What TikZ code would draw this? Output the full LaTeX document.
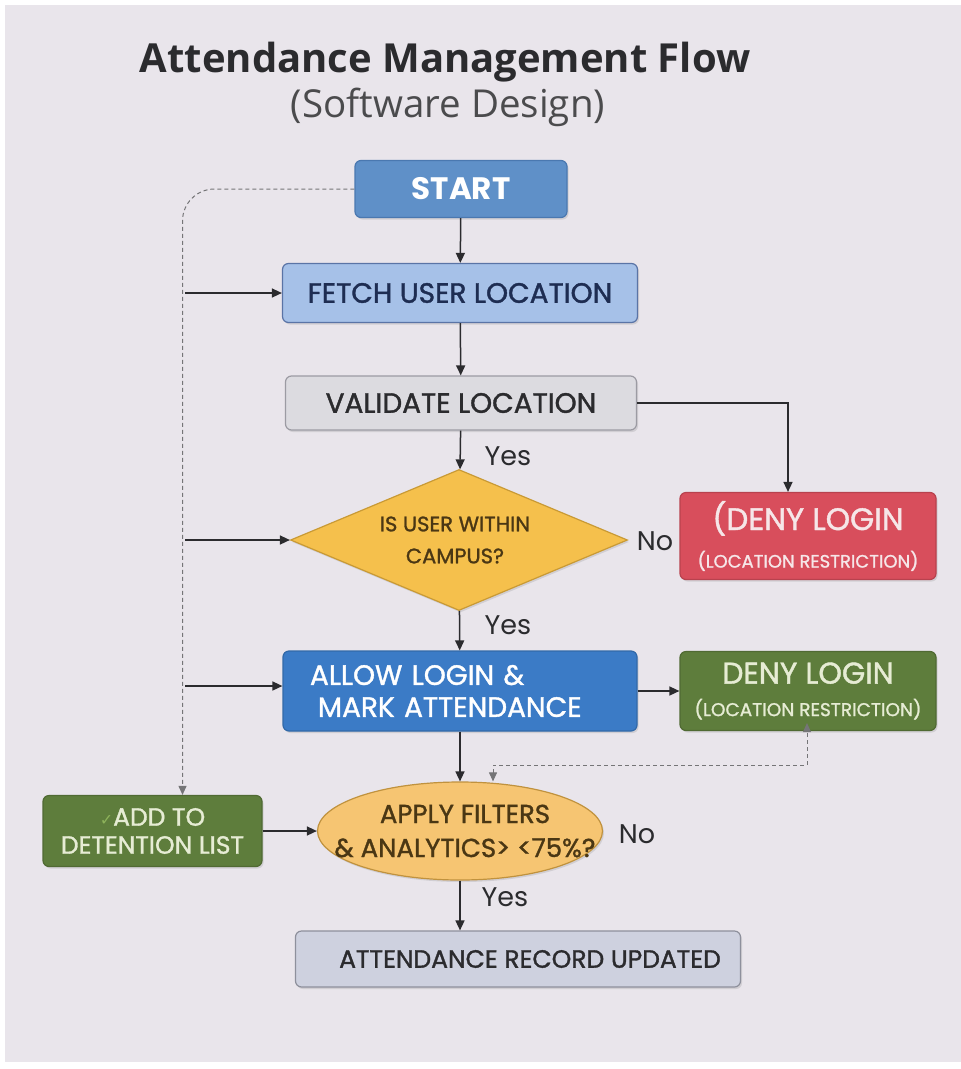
\documentclass[tikz,border=0pt]{standalone}
\usepackage{fontspec}
\setmainfont{Poppins}
\newfontfamily\boxfont{Poppins}[FakeBold=1.3]
\newfontfamily\titlefont{Open Sans}
\newfontfamily\symfont{DejaVu Sans}
\usetikzlibrary{arrows.meta,shapes.geometric,calc,shadows}

\definecolor{pagebg}{HTML}{E9E5EB}
\definecolor{ink}{HTML}{2B2B2E}
\definecolor{startfill}{HTML}{5F90C8}
\definecolor{startedge}{HTML}{4A78B0}
\definecolor{fetchfill}{HTML}{A6C1E8}
\definecolor{fetchedge}{HTML}{5A74A6}
\definecolor{fetchtext}{HTML}{1E2D52}
\definecolor{valfill}{HTML}{DCDBE0}
\definecolor{valedge}{HTML}{9C9BA3}
\definecolor{decfill}{HTML}{F5C04C}
\definecolor{decedge}{HTML}{C99A35}
\definecolor{dectext}{HTML}{4A3714}
\definecolor{redfill}{HTML}{D84E5C}
\definecolor{redtext}{HTML}{F6E6E8}
\definecolor{allowfill}{HTML}{3B7BC6}
\definecolor{greenfill}{HTML}{5E7D3C}
\definecolor{greentext}{HTML}{E6ECD4}
\definecolor{checkgreen}{HTML}{8DB25A}
\definecolor{ovalfill}{HTML}{F6C572}
\definecolor{ovaledge}{HTML}{C0923E}
\definecolor{recfill}{HTML}{CED1DF}
\definecolor{recedge}{HTML}{8E909C}

\newcommand{\fsz}[1]{\fontsize{#1}{#1}\selectfont}

\tikzset{
  softshadow/.style={drop shadow={shadow xshift=1.5pt, shadow yshift=-2pt, opacity=0.18, fill=black!60}},
  box/.style={rectangle, rounded corners=6pt, inner sep=0pt, line width=1.2pt, align=center, softshadow},
  flow/.style={-{Triangle[length=10pt,width=9pt]}, line width=1.5pt, draw=ink},
  dashline/.style={dashed, dash pattern=on 4pt off 3pt, line width=1pt, draw=ink!65},
  answer/.style={text=ink, font=\fsz{27}},
}

\begin{document}
\begin{tikzpicture}[x=1pt,y=-1pt]
\useasboundingbox (0,0) rectangle (961,1069);
\fill[white] (0,0) rectangle (961,1069);
\fill[pagebg] (5,5) rectangle (961,1062);

% heading
\node[font=\titlefont\bfseries\fsz{40}, text=ink] (title) at (445,62) {Attendance Management Flow};
\node[font=\titlefont\fsz{38.5}, text=ink!85] (subtitle) at (448,107) {(Software Design)};

% main column
\node[box, fill=startfill, draw=startedge, minimum width=212pt, minimum height=57pt,
      text=white, font=\bfseries\fsz{31}] (start) at (461,189) {START};
\node[box, fill=fetchfill, draw=fetchedge, minimum width=355pt, minimum height=59pt,
      text=fetchtext, font=\boxfont\fsz{28}] (fetch) at (460,293) {FETCH USER LOCATION};
\node[box, fill=valfill, draw=valedge, minimum width=351pt, minimum height=54pt,
      text=ink, font=\boxfont\fsz{28}] (validate) at (461,403) {VALIDATE LOCATION};
\node[diamond, aspect=2.39, inner sep=0pt, minimum width=337pt, minimum height=141pt,
      fill=decfill, draw=decedge, line width=1.2pt, softshadow,
      label={[text=dectext, font=\boxfont\fsz{21}, align=center, xshift=-4pt]center:IS USER WITHIN\\[11pt]CAMPUS?}]
      (campus) at (459,540) {};
\node[box, fill=redfill, draw=redfill!85!black, minimum width=256pt, minimum height=87pt,
      text=redtext, font=\boxfont] (denyred) at (808,536)
      {{\fsz{31}(DENY LOGIN}\\[14pt]{\fsz{18}(LOCATION RESTRICTION)}};
\node[box, fill=allowfill, draw=allowfill!85!black, minimum width=354pt, minimum height=80pt,
      text=white] (allow) at (460,691) {};
\node[text=white, font=\boxfont\fsz{28}, text width=300pt, align=left, inner sep=0pt] (allowtext) at (allow)
      {ALLOW LOGIN \&\\[4pt]\hspace*{8pt}MARK ATTENDANCE};
\node[box, fill=greenfill, draw=greenfill!85!black, minimum width=256pt, minimum height=79pt,
      text=greentext, font=\boxfont] (denygreen) at (808,691)
      {{\fsz{30}DENY LOGIN}\\[14pt]{\fsz{18.5}(LOCATION RESTRICTION)}};
\node[ellipse, inner sep=0pt, minimum width=285pt, minimum height=98pt,
      fill=ovalfill, draw=ovaledge, line width=1.2pt, softshadow,
      label={[text=dectext, font=\boxfont\fsz{26}, align=center, xshift=5pt]center:APPLY FILTERS\\[8pt]\& ANALYTICS> <75\%?}]
      (filters) at (460,831) {};
\node[box, fill=greenfill, draw=greenfill!85!black, minimum width=219pt, minimum height=71pt,
      text=greentext, font=\boxfont\fsz{25}] (detention) at (152.5,831)
      {{\color{checkgreen}\symfont\fsz{16}✓}ADD TO\\[3pt]DETENTION LIST};
\node[box, fill=recfill, draw=recedge, minimum width=445pt, minimum height=56pt,
      text=ink, font=\boxfont\fsz{25}] (record) at (518,959) {\hspace*{24pt}ATTENDANCE RECORD UPDATED};

% answer labels
\node[answer] (yes1) at (508,456) {Yes};
\node[answer] (yes2) at (508,625) {Yes};
\node[answer] (yes3) at (505,897) {Yes};
\node[answer] (no1) at (655,541) {No};
\node[answer] (no2) at (637,834) {No};

% main flow
\draw[flow] (start) -- (fetch);
\draw[flow] (fetch) -- (validate);
\draw[flow] (validate) -- (campus);
\draw[flow] (campus) -- (allow);
\draw[flow] (allow.south) -- (allow.south |- filters.north);
\draw[flow] (filters) -- (filters.south |- record.north);
\draw[flow] (validate.east) -| (denyred.north -| 788,0);
\draw[flow] (allow) -- (denygreen);
\draw[flow] (detention) -- (detention -| filters.west);

% dashed side rail
\draw[dashline, -{Triangle[length=9pt,width=8pt]}, rounded corners=32pt]
  (start.west) -| ([xshift=30pt]detention.north);
\coordinate (jf) at (185,293);
\coordinate (jc) at (185,540);
\coordinate (ja) at (185,686);
\draw[flow] (jf) -- (jf -| fetch.west);
\draw[flow] (jc) -- (campus.west);
\draw[flow] (ja) -- (ja -| allow.west);

% dashed feedback link
\coordinate (fb1) at (493,765);
\coordinate (fb2) at (807,765);
\draw[dashline, {Triangle[length=9pt,width=8pt]}-{Triangle[length=9pt,width=8pt]}]
  (fb1 |- filters.north) -- (fb1) -- (fb2) -- ([yshift=8pt]fb2 |- denygreen.south);
\end{tikzpicture}
\end{document}
